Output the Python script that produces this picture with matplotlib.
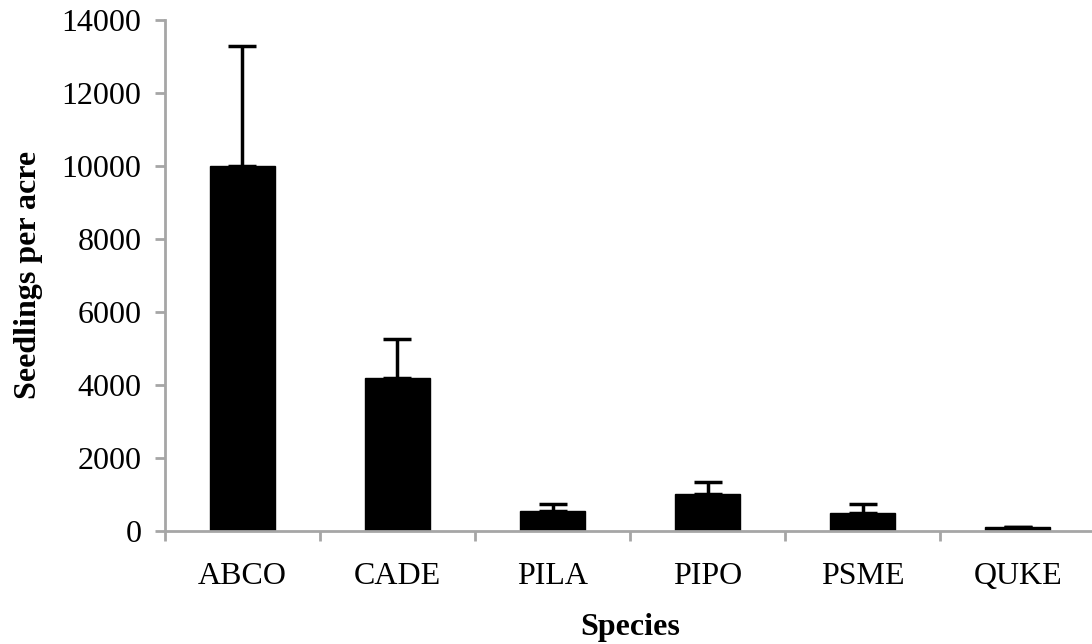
import matplotlib
matplotlib.use("Agg")
import matplotlib.pyplot as plt
import numpy as np

# Seedling density by species (mean and upper error)
species = ["ABCO", "CADE", "PILA", "PIPO", "PSME", "QUKE"]
seedlings = [10000, 4180, 560, 1000, 480, 110]
err_upper = [3280, 1080, 180, 350, 260, 0]

plt.rcParams["font.family"] = ["Liberation Serif", "DejaVu Serif"]

fig = plt.figure(figsize=(10.92, 6.44), dpi=100)
ax = fig.add_axes([0.151, 0.1755, 0.852, 0.794])

x = np.arange(len(species))
ax.bar(x, seedlings, width=0.42, color="black", edgecolor="black")
ax.errorbar(x, seedlings, yerr=[np.zeros(len(species)), err_upper],
            fmt="none", ecolor="black", elinewidth=2.5, capsize=10, capthick=2.5)

ax.set_xlim(-0.5, len(species) - 0.5)
ax.set_ylim(0, 14000)
ax.set_yticks(range(0, 14001, 2000))

# category labels centred under bars, ticks between categories
ax.set_xticks(x)
ax.set_xticklabels(species, fontsize=23)
ax.set_xticks(np.arange(-0.5, len(species), 1), minor=True)
ax.tick_params(axis="x", which="major", length=0, pad=22)
ax.tick_params(axis="x", which="minor", length=7, width=2, color="#a6a6a6", direction="out")
ax.tick_params(axis="y", length=7, width=2, color="#a6a6a6", labelsize=23, pad=10)

for s in ["top", "right"]:
    ax.spines[s].set_visible(False)
for s in ["left", "bottom"]:
    ax.spines[s].set_color("#a6a6a6")
    ax.spines[s].set_linewidth(2)

ax.set_xlabel("Species", fontsize=23, fontweight="bold", labelpad=16)
ax.set_ylabel("Seedlings per acre", fontsize=23, fontweight="bold", labelpad=13)

plt.savefig("out.png", dpi=100)
